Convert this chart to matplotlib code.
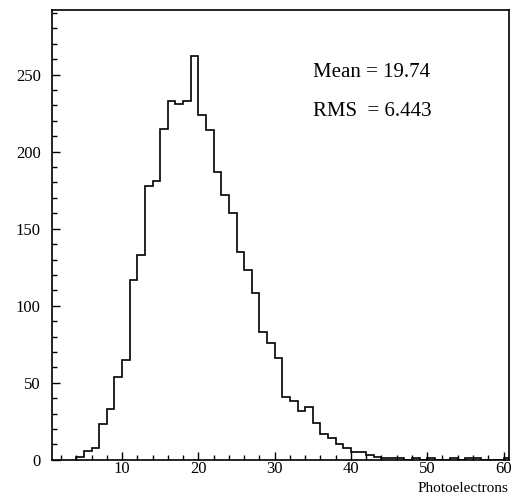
import matplotlib
matplotlib.use("Agg")
import matplotlib.pyplot as plt
import numpy as np
from matplotlib.ticker import MultipleLocator

# photoelectron counts per unit bin, starting at bin [4, 5)
first_edge = 4
counts = [2, 6, 8, 23, 33, 54, 65, 117, 133, 178,
          181, 215, 233, 231, 233, 262, 224, 214, 187, 172,
          160, 135, 123, 108, 83, 76, 66, 41, 38, 32,
          34, 24, 17, 14, 10, 8, 5, 5, 3, 2,
          1, 1, 1, 0, 1, 0, 1, 0, 0, 1,
          0, 1, 1, 0, 0, 0, 1]
mean_text = "Mean = 19.74"
rms_text = "RMS  = 6.443"
xlabel = "Photoelectrons"

plt.rcParams['font.family'] = ['Liberation Serif', 'DejaVu Serif']

edges = np.arange(first_edge, first_edge + len(counts) + 1)

fig = plt.figure(figsize=(5.14, 4.95), dpi=100)
ax = fig.add_axes([0.101, 0.071, 0.889, 0.909])

ax.stairs(counts, edges, color="black", linewidth=1.2)

ax.set_xlim(0.8, 60.7)
ax.set_ylim(0, 292)

ax.xaxis.set_major_locator(MultipleLocator(10))
ax.xaxis.set_minor_locator(MultipleLocator(2))
ax.yaxis.set_major_locator(MultipleLocator(50))
ax.yaxis.set_minor_locator(MultipleLocator(10))
ax.tick_params(which="both", direction="in", top=False, right=False,
               labelsize=12, width=1.0)
ax.tick_params(which="major", length=6)
ax.tick_params(which="minor", length=3.5)
ax.tick_params(axis="x", pad=1)
ax.tick_params(axis="y", pad=8)
for s in ax.spines.values():
    s.set_linewidth(1.2)

ax.text(0.571, 0.85, mean_text, transform=ax.transAxes, fontsize=15)
ax.text(0.571, 0.765, rms_text, transform=ax.transAxes, fontsize=15)

fig.text(0.99, 0.0, xlabel, ha="right", va="bottom", fontsize=11)

fig.savefig("out.png", dpi=100)
